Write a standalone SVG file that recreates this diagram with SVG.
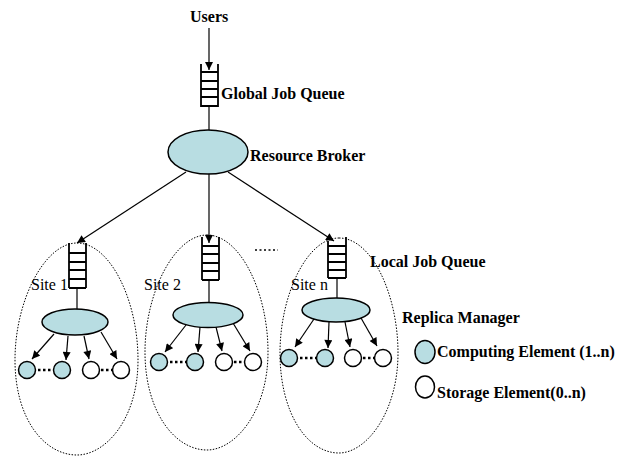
<svg xmlns="http://www.w3.org/2000/svg" width="629" height="456" viewBox="0 0 629 456">
<defs>
<marker id="ah" viewBox="0 0 10 10" refX="10" refY="5" markerWidth="9" markerHeight="8" markerUnits="userSpaceOnUse" orient="auto"><path d="M0,0 L10,5 L0,10 z" fill="#000"/></marker>
</defs>
<style>
text{font-family:'Liberation Serif','Times New Roman','DejaVu Serif',serif;fill:#000}
.b{font-weight:bold;font-size:16px}
.r{font-weight:normal;font-size:16px}
.el{fill:#b8dde2;stroke:#000;stroke-width:1.5}
.se{fill:#fff;stroke:#000;stroke-width:1.5}
.q{fill:none;stroke:#000;stroke-width:1.8}
.site{fill:none;stroke:#000;stroke-width:1;stroke-dasharray:1.5,1.5}
.c{stroke:#000;stroke-width:1.2;fill:none}
.a{stroke:#000;stroke-width:1.2;fill:none;marker-end:url(#ah)}
.dots{stroke:#000;stroke-width:2.5;stroke-dasharray:2.5,2.5;fill:none}
</style>
<rect width="629" height="456" fill="#fff"/>

<g id="sites">
<path class="site" d="M77,243 C110,243 138,300 138,360 C138,420 105,455 77,455 C45,455 15,420 15,360 C15,300 45,243 77,243 Z"/>
<path class="site" d="M207,235 C240,235 268,292 268,352 C268,412 235,450 207,450 C175,450 145,412 145,352 C145,292 175,235 207,235 Z"/>
<path class="site" d="M339,238 C372,238 398,295 398,353 C398,413 366,453 339,453 C307,453 280,413 280,353 C280,295 307,238 339,238 Z"/>
</g>

<g id="connectors">
<line class="a" x1="209" y1="28" x2="209" y2="70"/>
<line class="c" x1="209" y1="107" x2="209" y2="130"/>
<line class="a" x1="186" y1="172" x2="77" y2="243"/>
<line class="a" x1="209" y1="174" x2="209" y2="243"/>
<line class="a" x1="228" y1="172" x2="334" y2="241"/>
<line class="c" x1="77" y1="288" x2="77" y2="310"/>
<line class="c" x1="209" y1="280" x2="209" y2="303"/>
<line class="c" x1="337" y1="278" x2="337" y2="298"/>
<line class="a" x1="54" y1="334" x2="32" y2="359"/>
<line class="a" x1="68" y1="336" x2="66" y2="360"/>
<line class="a" x1="84" y1="336" x2="89" y2="359"/>
<line class="a" x1="101" y1="332" x2="117" y2="359"/>
<line class="a" x1="186" y1="325" x2="165" y2="352"/>
<line class="a" x1="200" y1="327" x2="198" y2="352"/>
<line class="a" x1="216" y1="327" x2="222" y2="351"/>
<line class="a" x1="233" y1="323" x2="250" y2="351"/>
<line class="a" x1="314" y1="319" x2="295" y2="347"/>
<line class="a" x1="329" y1="322" x2="328" y2="348"/>
<line class="a" x1="345" y1="322" x2="350" y2="347"/>
<line class="a" x1="361" y1="318" x2="377" y2="346"/>
</g>

<g id="users"><text class="b" x="190" y="22">Users</text></g>

<g id="global-queue">
<path class="q" d="M201,64 V107 M218,64 V107 M201,72 H218 M201,81 H218 M201,89 H218 M201,97 H218 M201,106 H218"/>
<text class="b" x="221" y="99">Global Job Queue</text>
</g>

<g id="resource-broker">
<ellipse class="el" cx="208" cy="152" rx="40" ry="22"/>
<text class="b" x="250" y="161">Resource Broker</text>
</g>

<g id="site1">
<path class="q" d="M69,243 V288 M86,243 V288 M69,253 H86 M69,262 H86 M69,270 H86 M69,279 H86 M69,288 H86"/>
<text class="r" x="31" y="290">Site 1</text>
<ellipse class="el" cx="75" cy="322" rx="33" ry="13"/>
<circle class="el" cx="27" cy="370" r="8.5"/>
<circle class="el" cx="62" cy="370" r="8.5"/>
<circle class="se" cx="91" cy="370" r="8.5"/>
<circle class="se" cx="121" cy="370" r="8.5"/>
<line class="dots" x1="38" y1="370" x2="53" y2="370"/>
<line class="dots" x1="101" y1="370" x2="112" y2="370"/>
</g>

<g id="site2">
<path class="q" d="M202,237 V280 M219,237 V280 M202,246 H219 M202,254 H219 M202,263 H219 M202,271 H219 M202,280 H219"/>
<text class="r" x="144" y="290">Site 2</text>
<ellipse class="el" cx="208" cy="315" rx="35" ry="12.5"/>
<circle class="el" cx="159" cy="362" r="8.5"/>
<circle class="el" cx="195" cy="362" r="8.5"/>
<circle class="se" cx="224" cy="362" r="8.5"/>
<circle class="se" cx="253" cy="362" r="8.5"/>
<line class="dots" x1="170" y1="362" x2="186" y2="362"/>
<line class="dots" x1="234" y1="362" x2="244" y2="362"/>
<line class="dots" x1="255" y1="250" x2="278" y2="250" style="stroke-width:1.5;stroke-dasharray:2,2.5"/>
</g>

<g id="siten">
<path class="q" d="M328,241 V278 M346,237 V278 M328,246 H346 M328,254 H346 M328,262 H346 M328,270 H346 M328,278 H346"/>
<text class="r" x="291" y="290">Site n</text>
<ellipse class="el" cx="336" cy="310" rx="34" ry="12"/>
<circle class="el" cx="289" cy="358" r="8.5"/>
<circle class="el" cx="325" cy="358" r="8.5"/>
<circle class="se" cx="353" cy="358" r="8.5"/>
<circle class="se" cx="383" cy="358" r="8.5"/>
<line class="dots" x1="300" y1="358" x2="316" y2="358"/>
<line class="dots" x1="363" y1="358" x2="374" y2="358"/>
</g>

<g id="labels">
<text class="b" x="370" y="267">Local Job Queue</text>
<text class="b" x="402" y="323">Replica Manager</text>
</g>

<g id="legend">
<ellipse class="el" cx="425" cy="352" rx="10" ry="11.5"/>
<text class="b" x="437" y="357">Computing Element (1..n)</text>
<ellipse class="se" cx="425" cy="387" rx="9.5" ry="11"/>
<text class="b" x="437" y="398">Storage Element(0..n)</text>
</g>
</svg>
